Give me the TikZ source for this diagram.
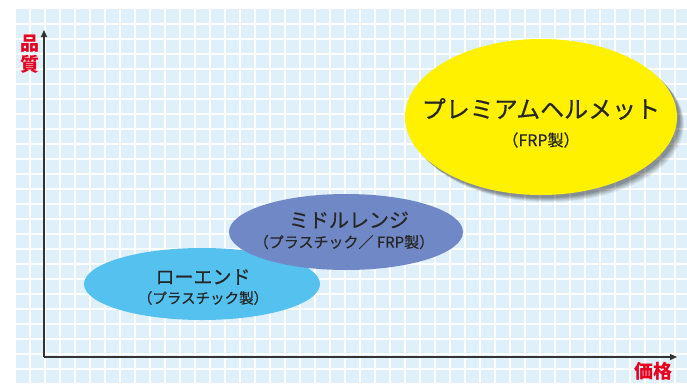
\documentclass[tikz,border=0pt]{standalone}
\usepackage{fontspec}
\newfontfamily\jp{Noto Sans CJK JP}
\newfontfamily\jpm[FakeBold=0.5]{Noto Sans CJK JP}
\usetikzlibrary{shadows,arrows.meta}
\definecolor{gridbg}{HTML}{DFF0FA}
\definecolor{axiscol}{HTML}{333333}
\definecolor{premium}{HTML}{FFF100}
\definecolor{midcol}{HTML}{7089C6}
\definecolor{lowcol}{HTML}{55C1EF}
\definecolor{labred}{HTML}{E60020}
\tikzset{
  axis/.style={draw=axiscol, line width=1.2pt, -{Triangle[length=7pt,width=6pt]}},
  axlabel/.style={text=labred, font=\jp\fontsize{19}{20}\selectfont\bfseries, inner sep=0pt},
  maintext/.style={font=\jpm\fontsize{#1}{#1}\selectfont, text=black!85, inner sep=0pt},
}
\begin{document}
\begin{tikzpicture}[x=1pt,y=-1pt]
\useasboundingbox (0,0) rectangle (687,383);
\fill[white] (0,0) rectangle (687,383);
\fill[gridbg] (14,9) rectangle (687,383);
\foreach \gx in {15,30,...,687} {\draw[white, line width=1.3pt] (\gx,9) -- (\gx,383);}
\foreach \gy in {24,39,...,383} {\draw[white, line width=1.3pt] (14,\gy) -- (687,\gy);}
% axes
\coordinate (origin) at (44,357);
\coordinate (ytop) at (44,30);
\coordinate (xend) at (677,357);
\draw[axis] (origin) -- (ytop);
\draw[axis] (origin) -- (xend);
\node[axlabel, align=center] (ylab) at (30,54) {品\\[1pt]質};
\node[axlabel] (xlab) at (653,371) {価格};
% ellipses
\foreach \s/\o in {7/0.08,6/0.08,5/0.1,4/0.1,3/0.12}
  {\fill[black, opacity=\o] (541+\s,117+\s) ellipse [x radius=136, y radius=78];}
\fill[premium] (541,117) ellipse [x radius=136, y radius=78];
\fill[lowcol] (202,284) ellipse [x radius=118, y radius=36];
\fill[midcol] (346,232) ellipse [x radius=117, y radius=38];
\node[maintext=24] (p1) at (541,109) {プレミアムヘルメット};
\node[maintext=16] (p2) at (541,140) {（FRP製）};
\node[maintext=20] (m1) at (349,220) {ミドルレンジ};
\node[maintext=15] (m2) at (344,242) {（プラスチック／ FRP製）};
\node[maintext=19] (l1) at (203,277) {ローエンド};
\node[maintext=14.5] (l2) at (203,298) {（プラスチック製）};
\end{tikzpicture}
\end{document}
